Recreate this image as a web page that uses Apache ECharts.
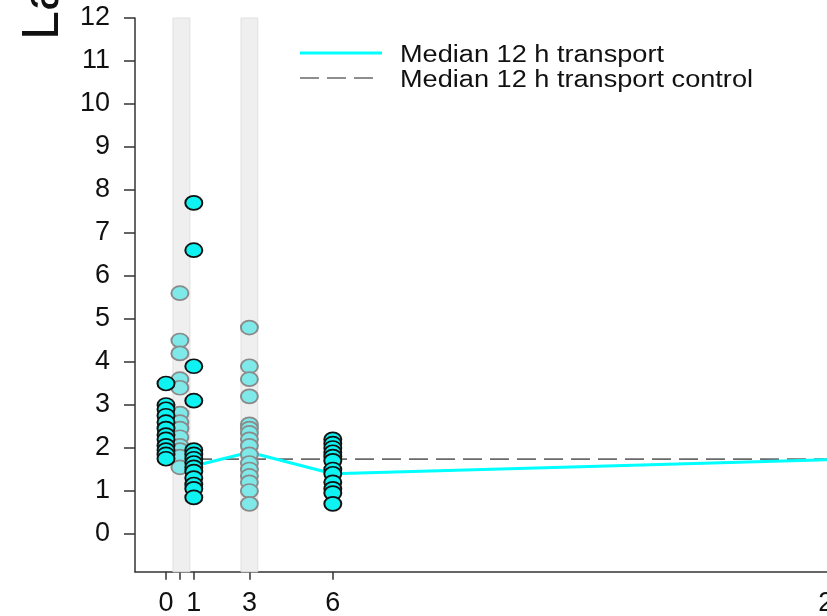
<!DOCTYPE html>
<html>
<head>
<meta charset="utf-8">
<script src="https://cdn.jsdelivr.net/npm/echarts@6/dist/echarts.min.js"></script>
<style>html,body{margin:0;padding:0;background:#fff;}#c{width:827px;height:616px;}</style>
</head>
<body>
<div id="c"></div>
<script>
// ---- data ----
var yAxisTitle = 'Lactate (mmol/L)';
var xTickValues = [0, 0.5, 1, 3, 6, 24];
var xLabelValues = [0, 1, 3, 6, 24];
var yLabelValues = [0, 1, 2, 3, 4, 5, 6, 7, 8, 9, 10, 11, 12];
var bands = [[0.25, 0.86], [2.7, 3.3]];

var hour0 = [3.5, 3.0, 2.9, 2.75, 2.6, 2.45, 2.3, 2.2, 2.05, 1.95, 1.85, 1.75];
var hour05 = [5.6, 4.5, 4.2, 3.6, 3.4, 2.8, 2.6, 2.45, 2.25, 2.05, 1.95, 1.8, 1.55];
var hour1 = [7.7, 6.6, 3.9, 3.1, 1.95, 1.85, 1.75, 1.65, 1.55, 1.45, 1.3, 1.15, 1.05, 0.85];
var hour3 = [4.8, 3.9, 3.6, 3.2, 2.55, 2.45, 2.35, 2.2, 2.05, 1.85, 1.65, 1.5, 1.35, 1.2, 1.0, 0.7];
var hour6 = [2.2, 2.1, 2.0, 1.9, 1.8, 1.7, 1.5, 1.4, 1.2, 1.05, 0.95, 0.7];

var medianHours = [1, 3, 6, 24];
var medianValues = [1.58, 1.9, 1.4, 1.73];
var controlHours = [0, 24];
var controlValues = [1.74, 1.74];

var seriesNames = ['Median 12 h transport', 'Median 12 h transport control'];

// ---- build ----
function pts(h, arr) { return arr.map(function (v) { return [h, v]; }); }
var brightData = pts(0, hour0).concat(pts(1, hour1), pts(6, hour6));
var lightData = pts(0.5, hour05).concat(pts(3, hour3));

var chart = echarts.init(document.getElementById('c'), null, { renderer: 'canvas' });
var FONT = 'Liberation Sans, Arial, sans-serif';
chart.setOption({
  animation: false,
  backgroundColor: '#ffffff',
  grid: { left: 135, top: 18, width: 726, height: 553.8, outerBoundsMode: 'none', containLabel: false },
  xAxis: {
    type: 'value', min: -1.115, max: 25,
    splitLine: { show: false },
    axisLine: { onZero: false, lineStyle: { color: '#333', width: 1.5 } },
    axisTick: { customValues: xTickValues, length: 8, lineStyle: { color: '#333', width: 1.5 } },
    axisLabel: { customValues: xLabelValues, margin: 18, fontFamily: FONT, fontSize: 27, color: '#111', hideOverlap: false }
  },
  yAxis: {
    type: 'value', min: -0.88, max: 12,
    splitLine: { show: false },
    axisLine: { show: true, onZero: false, lineStyle: { color: '#333', width: 1.5 } },
    axisTick: { show: true, customValues: yLabelValues, length: 11, lineStyle: { color: '#333', width: 1.5 } },
    axisLabel: { customValues: yLabelValues, margin: 25, fontFamily: FONT, fontSize: 27, color: '#111' }
  },
  graphic: [
    {
      type: 'text', x: 70, y: 40, rotation: Math.PI / 2,
      style: { text: yAxisTitle, fontFamily: FONT, fontSize: 52, fill: '#111', align: 'left', verticalAlign: 'bottom' }
    },
    { type: 'line', shape: { x1: 300, y1: 53, x2: 382, y2: 53 }, style: { stroke: '#00ffff', lineWidth: 3 } },
    { type: 'line', shape: { x1: 300, y1: 78, x2: 374, y2: 78 }, style: { stroke: '#6a6a6a', lineWidth: 1.6, lineDash: [19, 8] } },
    {
      type: 'text', x: 400, y: 56, scaleX: 1.18,
      style: { text: seriesNames[0], fontFamily: FONT, fontSize: 23, fill: '#111', align: 'left', verticalAlign: 'middle' }
    },
    {
      type: 'text', x: 400, y: 81, scaleX: 1.18,
      style: { text: seriesNames[1], fontFamily: FONT, fontSize: 23, fill: '#111', align: 'left', verticalAlign: 'middle' }
    }
  ],
  series: [
    {
      type: 'line', name: 'bands', data: [], z: 1, silent: true,
      markArea: {
        silent: true,
        itemStyle: { color: '#efefef', borderColor: '#e0e0e0', borderWidth: 1 },
        data: bands.map(function (b) { return [{ xAxis: b[0], yAxis: -0.88 }, { xAxis: b[1], yAxis: 12 }]; })
      }
    },
    {
      type: 'line', name: seriesNames[1], z: 2, symbol: 'none',
      data: controlHours.map(function (h, i) { return [h, controlValues[i]]; }),
      lineStyle: { color: '#6a6a6a', width: 1.6, type: [19, 8] }
    },
    {
      type: 'line', name: seriesNames[0], z: 3, symbol: 'none',
      data: medianHours.map(function (h, i) { return [h, medianValues[i]]; }),
      lineStyle: { color: '#00ffff', width: 3 }
    },
    {
      type: 'scatter', name: 'light', z: 4, symbol: 'circle', symbolSize: [17, 14],
      data: lightData,
      itemStyle: { color: '#7fe9ea', borderColor: '#8a8a8a', borderWidth: 1.8, opacity: 1 }
    },
    {
      type: 'scatter', name: 'bright', z: 5, symbol: 'circle', symbolSize: [17, 14],
      data: brightData,
      itemStyle: { color: '#0ff2f2', borderColor: '#111', borderWidth: 1.8, opacity: 1 }
    }
  ]
});
</script>
</body>
</html>
